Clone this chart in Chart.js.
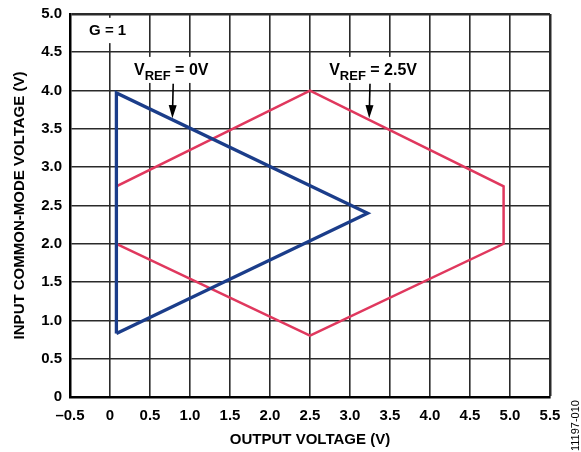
<!DOCTYPE html>
<html>
<head>
<meta charset="utf-8">
<script src="https://cdn.jsdelivr.net/npm/chart.js@4/dist/chart.umd.min.js"></script>
<style>
  html, body { margin: 0; padding: 0; background: #fff; }
  #wrap { width: 581px; height: 452px; position: relative; }
</style>
</head>
<body>
<div id="wrap"><canvas id="myChart" width="581" height="452"></canvas></div>
<script>
// V_REF = 0V boundary (triangle)
const vref0X = [0.08, 0.08, 3.22, 0.08];
const vref0Y = [0.83, 3.97, 2.4, 0.83];
// V_REF = 2.5V boundary (hexagon)
const vref25X = [0.08, 0.08, 2.5, 4.92, 4.92, 2.5, 0.08];
const vref25Y = [2.0, 2.75, 4.0, 2.75, 2.0, 0.8, 2.0];

const xTickLabels = ["–0.5", "0", "0.5", "1.0", "1.5", "2.0", "2.5", "3.0", "3.5", "4.0", "4.5", "5.0", "5.5"];
const yTickLabels = ["0", "0.5", "1.0", "1.5", "2.0", "2.5", "3.0", "3.5", "4.0", "4.5", "5.0"];

const FONT = "'Liberation Sans', Arial, sans-serif";
const BLUE = "#1b3d8a";
const RED = "#e0385e";

function toPoints(xs, ys) {
  return xs.map((x, i) => ({ x: x, y: ys[i] }));
}

function drawVref(ctx, x, y, rest) {
  ctx.font = "bold 16px " + FONT;
  ctx.textBaseline = "alphabetic";
  ctx.textAlign = "left";
  ctx.fillText("V", x, y);
  let w = ctx.measureText("V").width;
  ctx.font = "bold 13px " + FONT;
  ctx.fillText("REF", x + w, y + 5);
  w += ctx.measureText("REF").width;
  ctx.font = "bold 16px " + FONT;
  ctx.fillText(rest, x + w, y);
}

function drawArrow(ctx, x1, y1, x2, y2) {
  ctx.save();
  ctx.strokeStyle = "#000";
  ctx.fillStyle = "#000";
  ctx.lineWidth = 1.6;
  const a = Math.atan2(y2 - y1, x2 - x1);
  ctx.beginPath();
  ctx.moveTo(x1, y1);
  ctx.lineTo(x2 - 8 * Math.cos(a), y2 - 8 * Math.sin(a));
  ctx.stroke();
  ctx.beginPath();
  ctx.moveTo(x2, y2);
  ctx.lineTo(x2 - 13 * Math.cos(a) + 4 * Math.sin(a), y2 - 13 * Math.sin(a) - 4 * Math.cos(a));
  ctx.lineTo(x2 - 13 * Math.cos(a) - 4 * Math.sin(a), y2 - 13 * Math.sin(a) + 4 * Math.cos(a));
  ctx.closePath();
  ctx.fill();
  ctx.restore();
}

const labelsPlugin = {
  id: "labels",
  beforeDatasetsDraw(chart) {
    // white boxes behind the labels hide the grid there
    const ctx = chart.ctx;
    const px = (v) => chart.scales.x.getPixelForValue(v);
    const py = (v) => chart.scales.y.getPixelForValue(v);
    ctx.save();
    ctx.fillStyle = "#fff";
    ctx.fillRect(px(-0.28), py(4.95), px(0.25) - px(-0.28), py(4.62) - py(4.95));
    ctx.fillRect(px(0.26), py(4.44), px(1.32) - px(0.26), py(4.1) - py(4.44));
    ctx.fillRect(px(2.7), py(4.44), px(3.92) - px(2.7), py(4.1) - py(4.44));
    ctx.restore();
  },
  afterDraw(chart) {
    const ctx = chart.ctx;
    const xs = chart.scales.x;
    const ys = chart.scales.y;
    const px = (v) => xs.getPixelForValue(v);
    const py = (v) => ys.getPixelForValue(v);
    ctx.save();
    ctx.fillStyle = "#000";

    ctx.font = "bold 15px " + FONT;
    ctx.textAlign = "center";
    ctx.textBaseline = "middle";
    ctx.fillText("G = 1", px(-0.03), py(4.78));

    drawVref(ctx, px(0.3), py(4.2), " = 0V");
    drawArrow(ctx, px(0.79), py(4.09), px(0.78), py(3.64));

    drawVref(ctx, px(2.74), py(4.2), " = 2.5V");
    drawArrow(ctx, px(3.25), py(4.09), px(3.24), py(3.64));

    ctx.translate(576, 451);
    ctx.rotate(-Math.PI / 2);
    ctx.font = "11px " + FONT;
    ctx.textAlign = "left";
    ctx.textBaseline = "middle";
    ctx.fillText("11197-010", 0, 0);
    ctx.restore();
  },
};

const ctx = document.getElementById("myChart").getContext("2d");
const chart = new Chart(ctx, {
  type: "scatter",
  data: {
    datasets: [
      {
        label: "VREF = 0V",
        data: toPoints(vref0X, vref0Y),
        showLine: true,
        borderColor: BLUE,
        borderWidth: 3.3,
        pointRadius: 0,
        tension: 0,
      },
      {
        label: "VREF = 2.5V",
        data: toPoints(vref25X, vref25Y),
        showLine: true,
        borderColor: RED,
        borderWidth: 2.5,
        pointRadius: 0,
        tension: 0,
      },
    ],
  },
  options: {
    responsive: false,
    animation: false,
    layout: { padding: { top: 14, right: 31, left: 0, bottom: 0 } },
    plugins: {
      legend: { display: false },
      tooltip: { enabled: false },
    },
    scales: {
      x: {
        type: "linear",
        min: -0.5,
        max: 5.5,
        afterFit: (scale) => {
          scale.height = 55;
          scale.paddingLeft = 0;
          scale.paddingRight = 0;
        },
        ticks: {
          stepSize: 0.5,
          color: "#000",
          font: { family: FONT, size: 15, weight: "bold" },
          padding: 10,
          maxRotation: 0,
          callback: (v, i) => xTickLabels[i],
        },
        grid: {
          color: "#2a2a2a",
          lineWidth: (c) => (c.tick && c.tick.value === 5.5 ? 2.5 : 1.6),
          drawTicks: false,
        },
        border: { color: "#000", width: 2.5 },
        title: {
          display: true,
          text: "OUTPUT VOLTAGE (V)",
          color: "#000",
          font: { family: FONT, size: 15, weight: "bold" },
          padding: { top: 4, bottom: 3 },
        },
      },
      y: {
        type: "linear",
        min: 0,
        max: 5,
        afterFit: (scale) => {
          scale.width = 70;
          scale.paddingTop = 0;
          scale.paddingBottom = 0;
        },
        ticks: {
          stepSize: 0.5,
          color: "#000",
          font: { family: FONT, size: 15, weight: "bold" },
          padding: 8,
          callback: (v, i) => yTickLabels[i],
        },
        grid: {
          color: "#2a2a2a",
          lineWidth: (c) => (c.tick && c.tick.value === 5 ? 2.5 : 1.6),
          drawTicks: false,
        },
        border: { color: "#000", width: 2.5 },
        title: {
          display: true,
          text: "INPUT COMMON-MODE VOLTAGE (V)",
          color: "#000",
          font: { family: FONT, size: 15, weight: "bold" },
          padding: { top: 11, bottom: 0 },
        },
      },
    },
  },
  plugins: [labelsPlugin],
});
</script>
</body>
</html>
